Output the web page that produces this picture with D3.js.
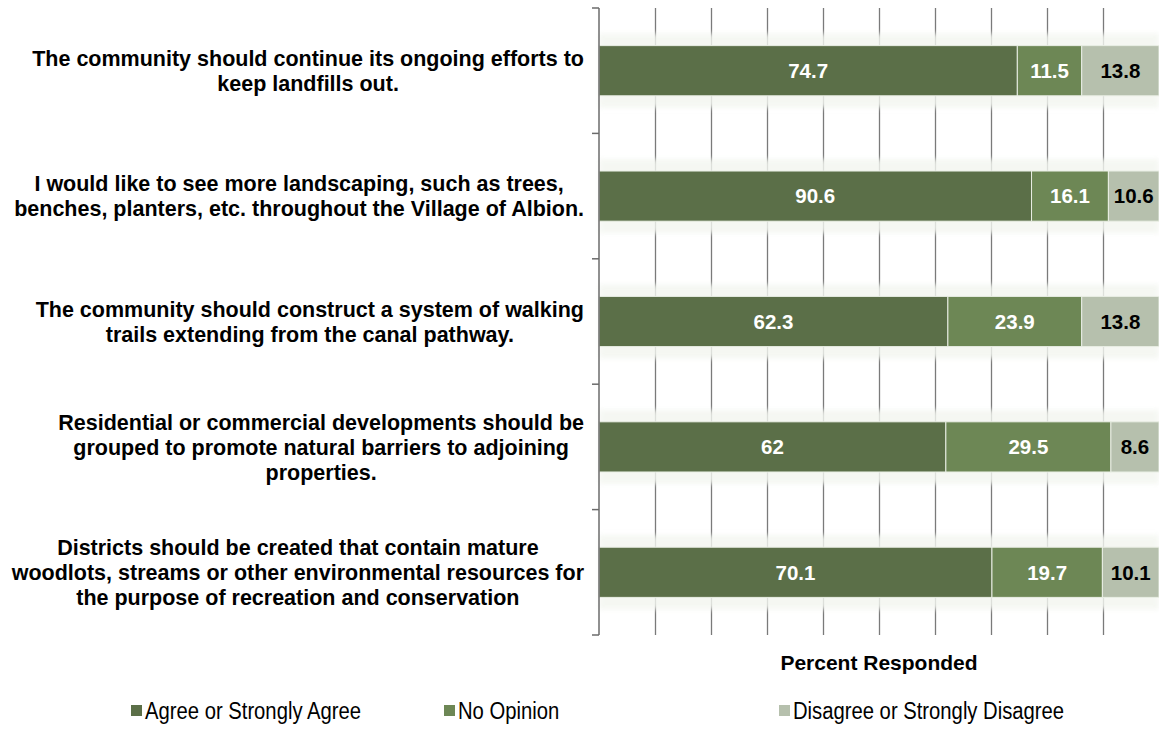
<!DOCTYPE html>
<html>
<head>
<meta charset="utf-8">
<script src="https://cdn.jsdelivr.net/npm/d3@7"></script>
<style>
  body { margin: 0; background: #ffffff; }
  svg { display: block; }
</style>
</head>
<body>
<svg id="chart" width="1159" height="736"></svg>
<script>
// Survey statements, each split into the lines it is printed on
const categoryLines = [
  ["The community should continue its ongoing efforts to", "keep landfills out."],
  ["I would like to see more landscaping, such as trees,", "benches, planters, etc. throughout the Village of Albion."],
  ["The community should construct a system of walking", "trails extending from the canal pathway."],
  ["Residential or commercial developments should be", "grouped to promote natural barriers to adjoining", "properties."],
  ["Districts should be created that contain mature", "woodlots, streams or other environmental resources for", "the purpose of recreation and conservation"]
];
const categories = categoryLines.map(l => l.join(" "));

// Responses per statement (percent)
const agree     = [74.7, 90.6, 62.3, 62, 70.1];
const noOpinion = [11.5, 16.1, 23.9, 29.5, 19.7];
const disagree  = [13.8, 10.6, 13.8, 8.6, 10.1];

const seriesKeys   = ["agree", "noOpinion", "disagree"];
const seriesNames  = ["Agree or Strongly Agree", "No Opinion", "Disagree or Strongly Disagree"];
const seriesColors = ["#5b6f48", "#6d8755", "#b6c0ad"];
const labelColors  = ["#ffffff", "#ffffff", "#000000"];

const gridTicks = [0.1, 0.2, 0.3, 0.4, 0.5, 0.6, 0.7, 0.8, 0.9];
const axisTitle = "Percent Responded";

const rows = categories.map((c, i) => ({
  category: c, agree: agree[i], noOpinion: noOpinion[i], disagree: disagree[i]
}));

const svg = d3.select("#chart");
const font = "Liberation Sans, Arial, sans-serif";

const x = d3.scaleLinear().domain([0, 1]).range([599, 1159]);
const y = d3.scaleBand().domain(categories).range([8, 635])
  .paddingInner(0.6).paddingOuter(0.3);

const stacked = d3.stack().keys(seriesKeys).offset(d3.stackOffsetExpand)(rows);

const defs = svg.append("defs");
defs.append("filter").attr("id", "soft")
  .attr("x", "-5%").attr("y", "-50%").attr("width", "110%").attr("height", "200%")
  .append("feGaussianBlur").attr("stdDeviation", 2.5);

// vertical gridlines
svg.append("g").selectAll("line").data(gridTicks).join("line")
  .attr("x1", d => Math.round(x(d)) + 0.5).attr("x2", d => Math.round(x(d)) + 0.5)
  .attr("y1", y.range()[0]).attr("y2", y.range()[1])
  .attr("stroke", "#7a7a7a").attr("stroke-width", 1.3);

// pale halo around each bar
svg.append("g").selectAll("rect").data(categories).join("rect")
  .attr("x", x(0)).attr("width", x(1) - x(0))
  .attr("y", d => y(d) - 12).attr("height", y.bandwidth() + 24)
  .attr("fill", "#f3f6f0").attr("opacity", 0.82)
  .attr("filter", "url(#soft)");

// stacked segments
const layer = svg.append("g").selectAll("g").data(stacked).join("g")
  .attr("fill", (d, i) => seriesColors[i]);

layer.selectAll("rect").data(d => d.map(v => ({ v, key: d.key, cat: v.data.category }))).join("rect")
  .attr("x", d => x(d.v[0]))
  .attr("width", d => x(d.v[1]) - x(d.v[0]))
  .attr("y", d => y(d.cat))
  .attr("height", y.bandwidth())
  .attr("stroke", "#e9eee4").attr("stroke-width", 1);

// value labels
svg.append("g").selectAll("g").data(stacked).join("g")
  .attr("fill", (d, i) => labelColors[i])
  .selectAll("text").data(d => d.map(v => ({ v, key: d.key, cat: v.data.category }))).join("text")
  .attr("x", d => (x(d.v[0]) + x(d.v[1])) / 2)
  .attr("y", d => y(d.cat) + y.bandwidth() / 2)
  .attr("dy", "0.36em")
  .attr("text-anchor", "middle")
  .attr("font-family", font)
  .attr("font-weight", "bold")
  .attr("font-size", 20.5)
  .text(d => d.v.data[d.key]);

// category axis line and ticks
const axisG = svg.append("g").attr("stroke", "#6b6b6b").attr("stroke-width", 1.5);
axisG.append("line")
  .attr("x1", x(0)).attr("x2", x(0))
  .attr("y1", y.range()[0]).attr("y2", y.range()[1]);
const boundaries = d3.range(categories.length + 1).map(i => y.range()[0] + i * y.step());
axisG.selectAll("line.tick").data(boundaries).join("line").attr("class", "tick")
  .attr("x1", x(0) - 7).attr("x2", x(0))
  .attr("y1", d => d).attr("y2", d => d);

// category labels: lines centred within a block that sits against the axis
const lineGap = 25;
const labelRight = 584;
const catG = svg.append("g")
  .attr("font-family", font)
  .attr("font-weight", "bold")
  .attr("font-size", 21.5)
  .attr("fill", "#000");
categoryLines.forEach((lines, i) => {
  const cy = y(categories[i]) + y.bandwidth() / 2;
  const t = catG.append("text").attr("text-anchor", "middle");
  lines.forEach((ln, j) => {
    t.append("tspan")
      .attr("y", cy + (j - (lines.length - 1) / 2) * lineGap)
      .attr("dy", "0.36em")
      .text(ln);
  });
  let maxW = 0;
  t.selectAll("tspan").each(function () { maxW = Math.max(maxW, this.getComputedTextLength()); });
  t.selectAll("tspan").attr("x", labelRight - maxW / 2);
});

// axis title
svg.append("text")
  .attr("x", (x(0) + x(1)) / 2).attr("y", 662)
  .attr("dy", "0.36em")
  .attr("text-anchor", "middle")
  .attr("font-family", font)
  .attr("font-weight", "bold")
  .attr("font-size", 21)
  .text(axisTitle);

// legend: tall, slightly condensed lettering
const legendX = [131, 444, 779];
const legendSquash = 0.88;
const legend = svg.append("g")
  .attr("font-family", font)
  .attr("font-size", 23);
seriesNames.forEach((name, i) => {
  const g = legend.append("g").attr("transform", `translate(${legendX[i]},711)`);
  g.append("rect").attr("x", 0).attr("y", -6).attr("width", 11).attr("height", 11)
    .attr("fill", seriesColors[i]);
  const t = g.append("text").attr("x", 14).attr("y", 0).attr("dy", "0.36em")
    .attr("fill", "#000").text(name);
  const w = t.node().getComputedTextLength();
  t.attr("textLength", w * legendSquash).attr("lengthAdjust", "spacingAndGlyphs");
});
</script>
</body>
</html>
